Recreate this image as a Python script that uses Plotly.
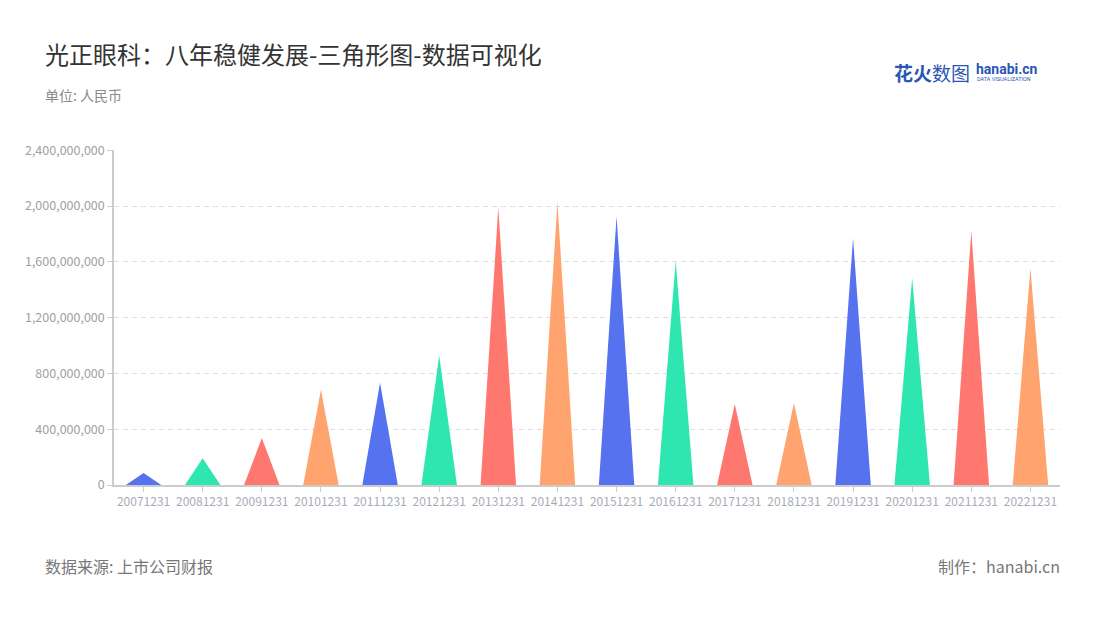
import plotly.graph_objects as go

categories = ["20071231", "20081231", "20091231", "20101231", "20111231", "20121231",
              "20131231", "20141231", "20151231", "20161231", "20171231", "20181231",
              "20191231", "20201231", "20211231", "20221231"]
values = [86e6, 191e6, 337e6, 683e6, 733e6, 929e6, 1990e6, 2031e6, 1924e6, 1608e6,
          581e6, 588e6, 1771e6, 1484e6, 1823e6, 1553e6]
palette = ["#5772EE", "#2EE6B0", "#FF7870", "#FFA36F"]
y_ticks = [0, 400e6, 800e6, 1200e6, 1600e6, 2000e6, 2400e6]

FONT = "Noto Sans CJK SC"
half = 0.3

fig = go.Figure()
for i, (c, v) in enumerate(zip(categories, values)):
    fig.add_trace(go.Scatter(
        x=[i - half, i, i + half, i - half],
        y=[0, v, 0, 0],
        mode="lines",
        fill="toself",
        fillcolor=palette[i % 4],
        line=dict(width=0, color=palette[i % 4]),
        hoverinfo="text",
        text=f"{c}: {v:,.0f}",
        showlegend=False,
    ))

# page has an 8px body margin; plot area targets page x 114..1060, y 150..485
PW, PH = 946, 335
fig.update_layout(
    width=1100, height=620,
    margin=dict(l=106, r=48, t=142, b=143),
    paper_bgcolor="white", plot_bgcolor="white",
    font=dict(family=FONT),
    xaxis=dict(
        range=[-0.5, len(categories) - 0.5],
        tickvals=list(range(len(categories))),
        ticktext=categories,
        showgrid=False, zeroline=False,
        showline=True, linecolor="#cccccc", linewidth=1.5,
        ticks="outside", ticklen=5, tickcolor="#cccccc",
        tickfont=dict(size=12, color="#a8acb8", family=FONT),
    ),
    yaxis=dict(
        range=[0, 2401.5e6],
        tickvals=y_ticks,
        tickformat=",",
        showgrid=True, gridcolor="#dedede", griddash="5px,4px",
        zeroline=False,
        showline=True, linecolor="#cccccc", linewidth=1.5,
        ticks="outside", ticklen=5, tickcolor="#cccccc",
        tickfont=dict(size=12.5, color="#a0a0a0", family=FONT),
    ),
)

def ax(px):
    return (px - 114) / PW

def ay(py):
    return (485 - py) / PH

fig.add_annotation(text="光正眼科：八年稳健发展-三角形图-数据可视化", xref="paper", yref="paper",
                   x=ax(43), y=ay(53), xanchor="left", yanchor="middle",
                   showarrow=False, font=dict(size=24, color="#333333", family=FONT))
fig.add_annotation(text="单位: 人民币", xref="paper", yref="paper",
                   x=ax(43), y=ay(95), xanchor="left", yanchor="middle",
                   showarrow=False, font=dict(size=14, color="#8a8a8a", family=FONT))
fig.add_annotation(text="数据来源: 上市公司财报", xref="paper", yref="paper",
                   x=ax(43), y=ay(566), xanchor="left", yanchor="middle",
                   showarrow=False, font=dict(size=16, color="#777777", family=FONT))
fig.add_annotation(text="制作：hanabi.cn", xref="paper", yref="paper",
                   x=ax(1062), y=ay(566), xanchor="right", yanchor="middle",
                   showarrow=False, font=dict(size=16, color="#777777", family=FONT))
# logo
fig.add_annotation(text="<b>花火</b>数图", xref="paper", yref="paper",
                   x=ax(892), y=ay(72), xanchor="left", yanchor="middle",
                   showarrow=False, font=dict(size=19, color="#2B56B5", family=FONT))
fig.add_annotation(text="<b>hanabi.cn</b>", xref="paper", yref="paper",
                   x=ax(974), y=ay(69), xanchor="left", yanchor="middle",
                   showarrow=False, font=dict(size=14, color="#2B56B5", family="Roboto"))
fig.add_annotation(text="DATA VISUALIZATION", xref="paper", yref="paper",
                   x=ax(975), y=ay(79), xanchor="left", yanchor="middle",
                   showarrow=False, font=dict(size=5.5, color="#2B56B5", family="Roboto"))

fig.write_html("out.html")
